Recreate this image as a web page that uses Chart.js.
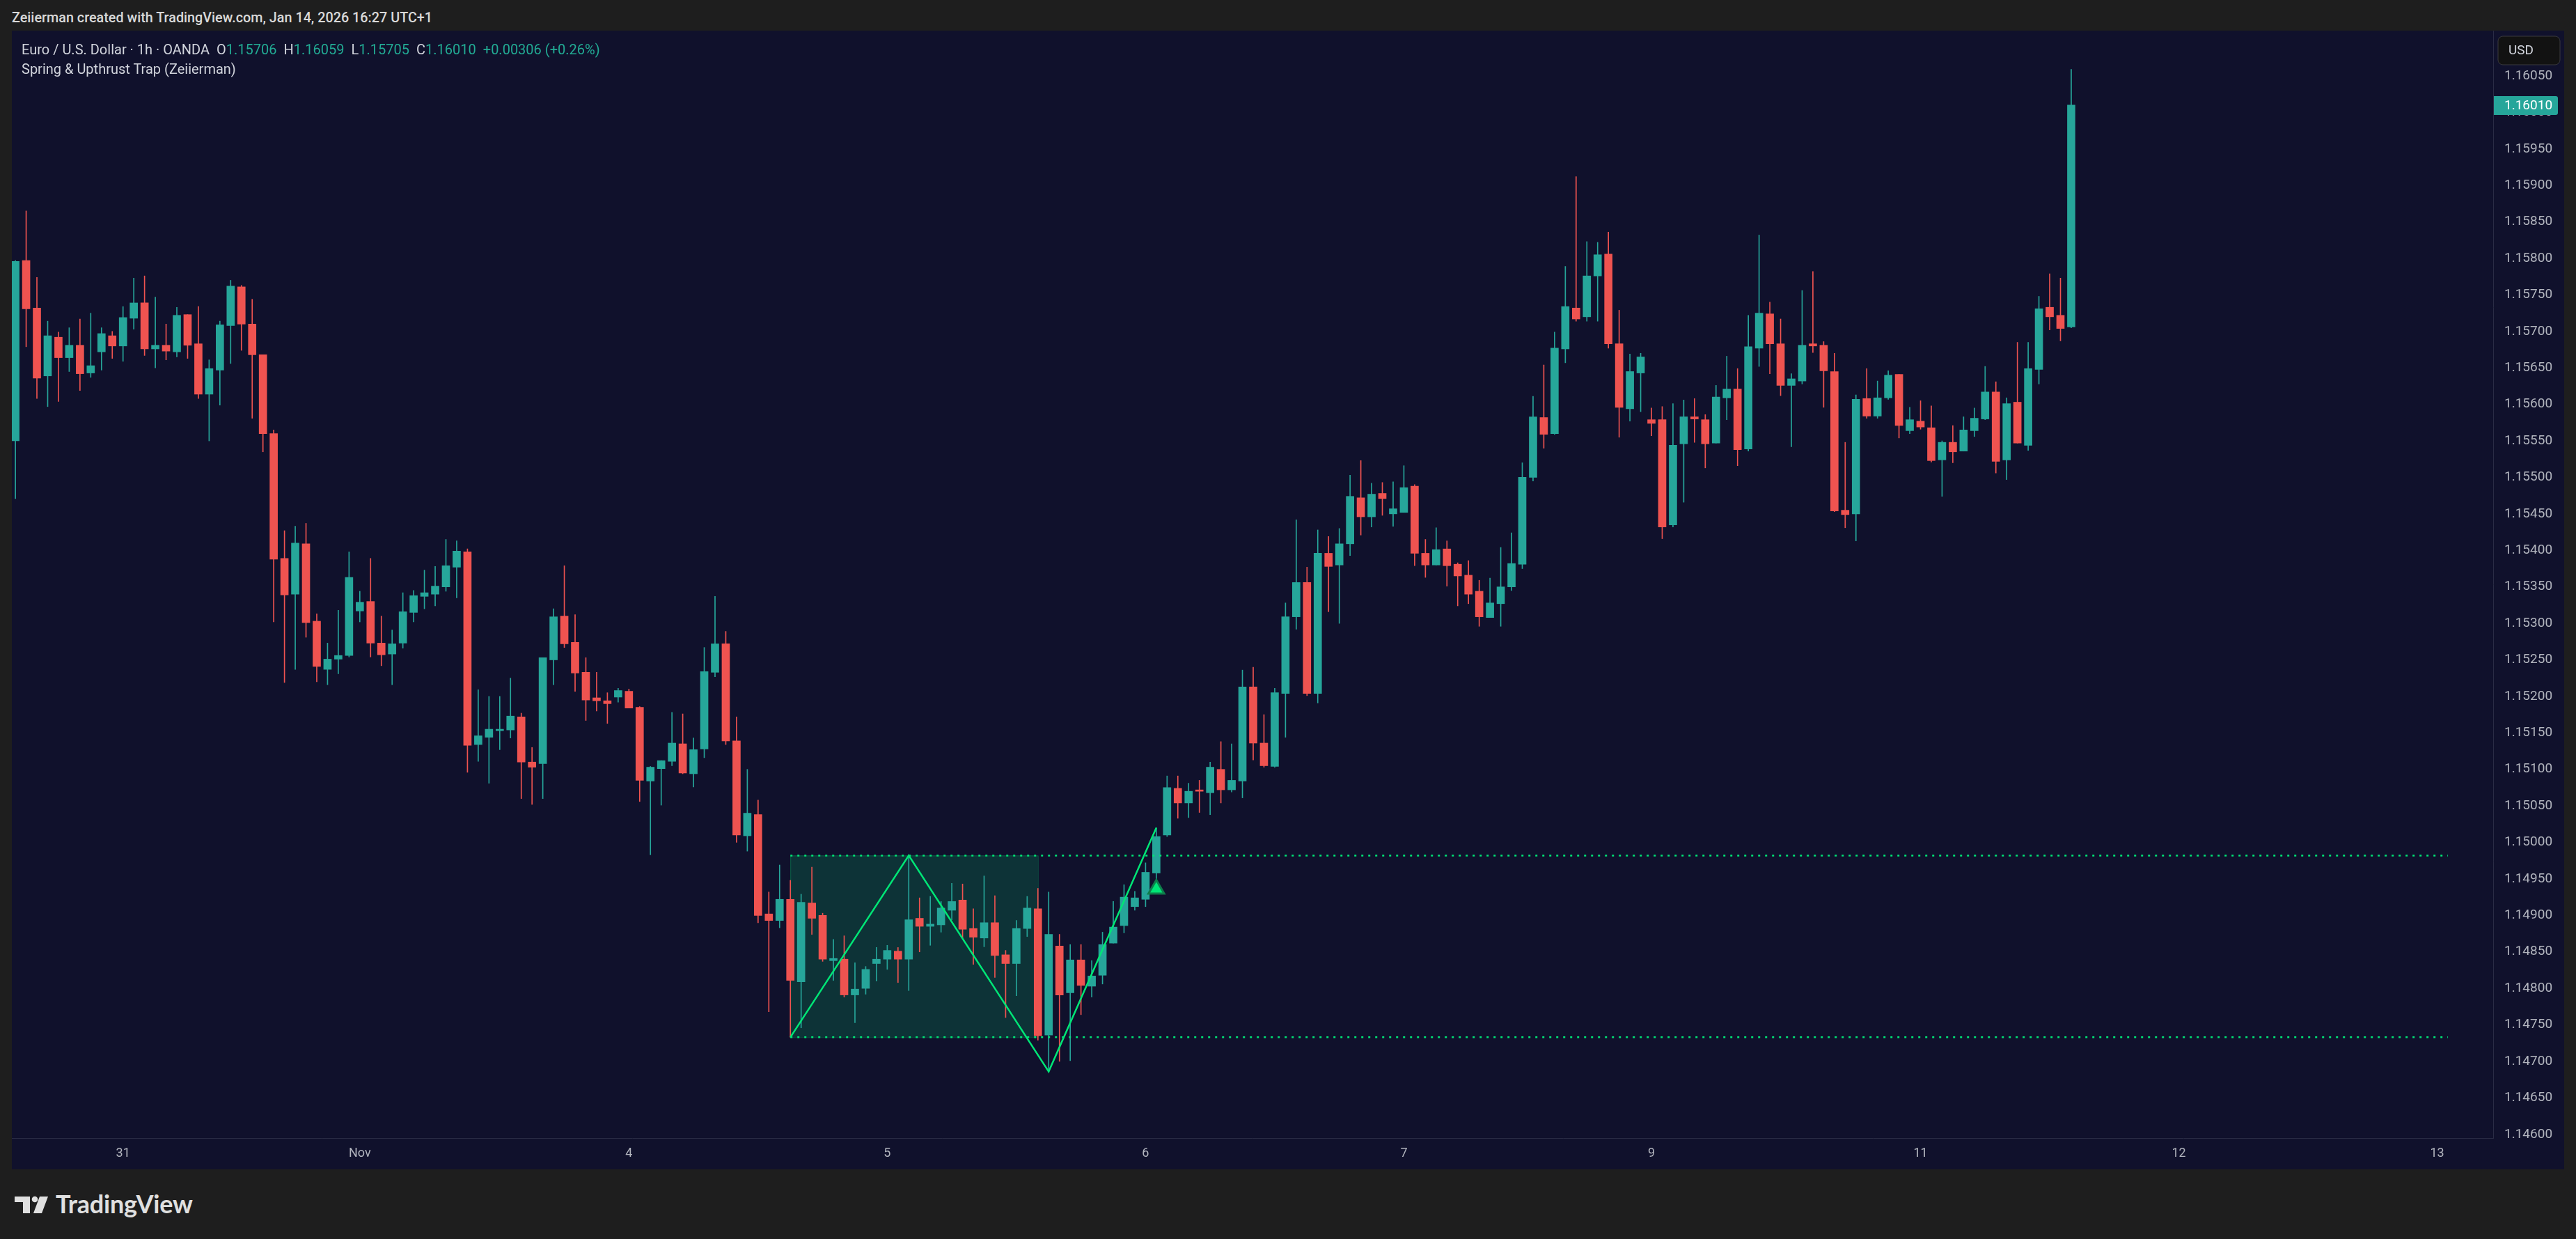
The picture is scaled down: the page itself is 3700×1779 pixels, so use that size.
<!DOCTYPE html>
<html>
<head>
<meta charset="utf-8">
<script src="https://cdn.jsdelivr.net/npm/chart.js@4.4.1/dist/chart.umd.min.js"></script>
<style>
  html, body { margin: 0; padding: 0; background: #1e1e1e; width: 3700px; height: 1779px; overflow: hidden; font-family: Roboto, "Noto Sans", sans-serif; }
  #topbar { position: absolute; left: 17px; top: 14px; font-size: 19.8px; font-weight: 500; color: #d9d9d9; line-height: 24px; white-space: nowrap; }
  #panel { position: absolute; left: 17px; top: 44px; width: 3666px; height: 1635px; background: #10112c; }
  #chart { position: absolute; left: 0; top: 0; }
  #legend { position: absolute; left: 31px; top: 57px; font-size: 20px; color: #d1d4dc; line-height: 28px; white-space: nowrap; z-index: 2; }
  #legend .v { color: #22ab94; }
  #legend .g { margin-left: 10px; }
  #logo { position: absolute; left: 0; top: 1700px; }
  #logotext { position: absolute; left: 80px; top: 1706px; font-family: Lato, Roboto, sans-serif; font-weight: 700; font-size: 36px; color: #e0e0e0; letter-spacing: -0.2px; }
</style>
</head>
<body>
<div id="topbar">Zeiierman created with TradingView.com, Jan 14, 2026 16:27 UTC+1</div>
<div id="panel"><canvas id="chart" width="3666" height="1635"></canvas></div>
<div id="legend">
  <div>Euro / U.S. Dollar · 1h · OANDA<span class="g">O<span class="v">1.15706</span></span><span class="g">H<span class="v">1.16059</span></span><span class="g">L<span class="v">1.15705</span></span><span class="g">C<span class="v">1.16010</span></span><span class="g v">+0.00306 (+0.26%)</span></div>
  <div>Spring &amp; Upthrust Trap (Zeiierman)</div>
</div>
<svg id="logo" width="80" height="60">
  <polygon points="21,18 43,18 43,42 33,42 33,26 21,26" fill="#e0e0e0"/>
  <circle cx="50" cy="22" r="4.3" fill="#e0e0e0"/>
  <polygon points="57,18 69,18 60,42 48,42" fill="#e0e0e0"/>
</svg>
<div id="logotext">TradingView</div>
<script>
// --- EURUSD 1h candles (Oct 30 14:00 .. Nov 11), index = bar number ---
const openPrices = [
  1.15550, 1.15797, 1.15732, 1.15639, 1.15692, 1.15664, 1.15681, 1.15643, 1.15672, 1.15694,
  1.15680, 1.15718, 1.15739, 1.15676, 1.15681, 1.15672, 1.15723, 1.15683, 1.15614, 1.15647,
  1.15708, 1.15761, 1.15710, 1.15668, 1.15560, 1.15389, 1.15340, 1.15409, 1.15303, 1.15237,
  1.15251, 1.15256, 1.15317, 1.15330, 1.15273, 1.15258, 1.15273, 1.15315, 1.15337, 1.15340,
  1.15350, 1.15377, 1.15398, 1.15134, 1.15144, 1.15153, 1.15154, 1.15172, 1.15110, 1.15108,
  1.15250, 1.15310, 1.15274, 1.15233, 1.15198, 1.15194, 1.15199, 1.15207, 1.15185, 1.15084,
  1.15101, 1.15111, 1.15135, 1.15094, 1.15128, 1.15233, 1.15272, 1.15139, 1.15009, 1.15038,
  1.14902, 1.14893, 1.14922, 1.14809, 1.14917, 1.14900, 1.14838, 1.14840, 1.14791, 1.14800,
  1.14834, 1.14840, 1.14851, 1.14840, 1.14896, 1.14885, 1.14887, 1.14907, 1.14921, 1.14882,
  1.14869, 1.14890, 1.14846, 1.14834, 1.14882, 1.14909, 1.14736, 1.14858, 1.14794, 1.14839,
  1.14803, 1.14818, 1.14862, 1.14886, 1.14912, 1.14922, 1.14958, 1.15010, 1.15074, 1.15054,
  1.15071, 1.15068, 1.15100, 1.15072, 1.15084, 1.15213, 1.15136, 1.15104, 1.15204, 1.15309,
  1.15356, 1.15204, 1.15396, 1.15380, 1.15409, 1.15472, 1.15446, 1.15478, 1.15450, 1.15452,
  1.15488, 1.15396, 1.15380, 1.15402, 1.15381, 1.15366, 1.15344, 1.15308, 1.15327, 1.15350,
  1.15381, 1.15500, 1.15582, 1.15560, 1.15676, 1.15732, 1.15720, 1.15776, 1.15806, 1.15683,
  1.15594, 1.15643, 1.15579, 1.15579, 1.15435, 1.15546, 1.15583, 1.15579, 1.15547, 1.15609,
  1.15621, 1.15539, 1.15677, 1.15724, 1.15683, 1.15626, 1.15632, 1.15683, 1.15681, 1.15645,
  1.15455, 1.15450, 1.15608, 1.15584, 1.15609, 1.15641, 1.15564, 1.15577, 1.15568, 1.15524,
  1.15548, 1.15536, 1.15564, 1.15580, 1.15617, 1.15524, 1.15603, 1.15544, 1.15648, 1.15733,
  1.15722, 1.15706
];
const highPrices = [
  1.15797, 1.15865, 1.15774, 1.15714, 1.15699, 1.15705, 1.15717, 1.15725, 1.15705, 1.15700,
  1.15734, 1.15773, 1.15776, 1.15747, 1.15710, 1.15733, 1.15723, 1.15734, 1.15661, 1.15714,
  1.15770, 1.15763, 1.15744, 1.15668, 1.15565, 1.15427, 1.15433, 1.15437, 1.15313, 1.15273,
  1.15318, 1.15398, 1.15344, 1.15389, 1.15310, 1.15291, 1.15342, 1.15345, 1.15373, 1.15378,
  1.15415, 1.15413, 1.15402, 1.15209, 1.15200, 1.15200, 1.15225, 1.15177, 1.15130, 1.15253,
  1.15320, 1.15379, 1.15312, 1.15253, 1.15233, 1.15205, 1.15211, 1.15210, 1.15186, 1.15104,
  1.15112, 1.15178, 1.15176, 1.15143, 1.15267, 1.15337, 1.15289, 1.15172, 1.15100, 1.15058,
  1.14932, 1.14969, 1.14948, 1.14929, 1.14966, 1.14903, 1.14867, 1.14872, 1.14835, 1.14830,
  1.14856, 1.14859, 1.14856, 1.14982, 1.14924, 1.14926, 1.14919, 1.14944, 1.14943, 1.14909,
  1.14954, 1.14927, 1.14852, 1.14893, 1.14926, 1.14937, 1.14932, 1.14874, 1.14860, 1.14860,
  1.14838, 1.14877, 1.14919, 1.14942, 1.14933, 1.14972, 1.15020, 1.15091, 1.15091, 1.15081,
  1.15085, 1.15110, 1.15138, 1.15135, 1.15236, 1.15240, 1.15175, 1.15211, 1.15328, 1.15442,
  1.15377, 1.15428, 1.15419, 1.15430, 1.15503, 1.15523, 1.15492, 1.15493, 1.15494, 1.15516,
  1.15490, 1.15415, 1.15431, 1.15413, 1.15383, 1.15386, 1.15359, 1.15362, 1.15404, 1.15424,
  1.15520, 1.15611, 1.15654, 1.15699, 1.15789, 1.15912, 1.15823, 1.15822, 1.15836, 1.15729,
  1.15669, 1.15670, 1.15595, 1.15597, 1.15601, 1.15606, 1.15608, 1.15586, 1.15626, 1.15666,
  1.15649, 1.15722, 1.15832, 1.15740, 1.15717, 1.15642, 1.15756, 1.15782, 1.15686, 1.15670,
  1.15548, 1.15613, 1.15649, 1.15632, 1.15646, 1.15641, 1.15596, 1.15605, 1.15598, 1.15550,
  1.15571, 1.15583, 1.15595, 1.15652, 1.15631, 1.15609, 1.15685, 1.15685, 1.15748, 1.15779,
  1.15773, 1.16059
];
const lowPrices = [
  1.15471, 1.15679, 1.15608, 1.15597, 1.15604, 1.15645, 1.15619, 1.15637, 1.15647, 1.15663,
  1.15659, 1.15703, 1.15667, 1.15650, 1.15661, 1.15665, 1.15663, 1.15608, 1.15550, 1.15599,
  1.15656, 1.15674, 1.15581, 1.15535, 1.15302, 1.15219, 1.15237, 1.15281, 1.15220, 1.15216,
  1.15231, 1.15254, 1.15302, 1.15254, 1.15242, 1.15216, 1.15266, 1.15302, 1.15320, 1.15324,
  1.15344, 1.15335, 1.15096, 1.15111, 1.15081, 1.15127, 1.15143, 1.15060, 1.15052, 1.15060,
  1.15216, 1.15267, 1.15207, 1.15167, 1.15180, 1.15163, 1.15192, 1.15184, 1.15056, 1.14983,
  1.15051, 1.15105, 1.15094, 1.15076, 1.15116, 1.15227, 1.15134, 1.15000, 1.14988, 1.14890,
  1.14768, 1.14883, 1.14733, 1.14746, 1.14874, 1.14837, 1.14811, 1.14788, 1.14753, 1.14792,
  1.14810, 1.14826, 1.14808, 1.14797, 1.14850, 1.14859, 1.14877, 1.14894, 1.14869, 1.14833,
  1.14857, 1.14815, 1.14760, 1.14790, 1.14871, 1.14729, 1.14686, 1.14700, 1.14701, 1.14764,
  1.14788, 1.14806, 1.14862, 1.14876, 1.14907, 1.14912, 1.14933, 1.15008, 1.15033, 1.15034,
  1.15041, 1.15038, 1.15054, 1.15069, 1.15061, 1.15113, 1.15103, 1.15103, 1.15144, 1.15292,
  1.15201, 1.15191, 1.15316, 1.15300, 1.15393, 1.15421, 1.15432, 1.15448, 1.15433, 1.15452,
  1.15379, 1.15363, 1.15380, 1.15351, 1.15324, 1.15327, 1.15296, 1.15308, 1.15296, 1.15345,
  1.15375, 1.15495, 1.15540, 1.15559, 1.15657, 1.15714, 1.15714, 1.15714, 1.15677, 1.15555,
  1.15577, 1.15590, 1.15557, 1.15416, 1.15432, 1.15466, 1.15548, 1.15513, 1.15547, 1.15579,
  1.15516, 1.15536, 1.15652, 1.15642, 1.15612, 1.15542, 1.15628, 1.15671, 1.15596, 1.15453,
  1.15431, 1.15413, 1.15581, 1.15581, 1.15607, 1.15554, 1.15560, 1.15566, 1.15521, 1.15474,
  1.15520, 1.15536, 1.15556, 1.15579, 1.15506, 1.15497, 1.15547, 1.15537, 1.15628, 1.15702,
  1.15687, 1.15705
];
const closePrices = [
  1.15796, 1.15731, 1.15636, 1.15694, 1.15664, 1.15681, 1.15642, 1.15653, 1.15697, 1.15680,
  1.15719, 1.15739, 1.15676, 1.15681, 1.15673, 1.15722, 1.15681, 1.15614, 1.15649, 1.15709,
  1.15762, 1.15710, 1.15668, 1.15560, 1.15388, 1.15339, 1.15410, 1.15301, 1.15241, 1.15251,
  1.15256, 1.15363, 1.15329, 1.15273, 1.15257, 1.15272, 1.15316, 1.15338, 1.15342, 1.15351,
  1.15379, 1.15399, 1.15133, 1.15146, 1.15155, 1.15155, 1.15173, 1.15110, 1.15103, 1.15253,
  1.15309, 1.15272, 1.15232, 1.15195, 1.15194, 1.15190, 1.15208, 1.15184, 1.15085, 1.15103,
  1.15112, 1.15136, 1.15095, 1.15127, 1.15234, 1.15272, 1.15139, 1.15010, 1.15040, 1.14900,
  1.14893, 1.14922, 1.14811, 1.14918, 1.14896, 1.14840, 1.14841, 1.14791, 1.14799, 1.14826,
  1.14840, 1.14852, 1.14840, 1.14894, 1.14885, 1.14888, 1.14910, 1.14919, 1.14881, 1.14870,
  1.14890, 1.14845, 1.14834, 1.14882, 1.14910, 1.14735, 1.14874, 1.14791, 1.14839, 1.14804,
  1.14817, 1.14860, 1.14884, 1.14925, 1.14924, 1.14959, 1.15008, 1.15075, 1.15054, 1.15070,
  1.15070, 1.15103, 1.15072, 1.15085, 1.15213, 1.15136, 1.15105, 1.15205, 1.15309, 1.15356,
  1.15204, 1.15396, 1.15378, 1.15409, 1.15474, 1.15446, 1.15477, 1.15471, 1.15457, 1.15486,
  1.15396, 1.15380, 1.15401, 1.15379, 1.15365, 1.15340, 1.15309, 1.15328, 1.15350, 1.15382,
  1.15500, 1.15583, 1.15559, 1.15677, 1.15734, 1.15717, 1.15776, 1.15805, 1.15683, 1.15596,
  1.15645, 1.15665, 1.15574, 1.15432, 1.15544, 1.15583, 1.15580, 1.15546, 1.15610, 1.15621,
  1.15538, 1.15679, 1.15725, 1.15683, 1.15626, 1.15635, 1.15681, 1.15680, 1.15646, 1.15454,
  1.15449, 1.15607, 1.15584, 1.15609, 1.15640, 1.15571, 1.15579, 1.15569, 1.15523, 1.15548,
  1.15535, 1.15565, 1.15581, 1.15617, 1.15522, 1.15601, 1.15547, 1.15649, 1.15731, 1.15720,
  1.15704, 1.16010
];

// --- axis ticks ---
const dayTickIdx = [10, 32, 57, 81, 105, 129, 152, 177, 201, 225];
const dayTickLabels = ['31', 'Nov', '4', '5', '6', '7', '9', '11', '12', '13'];
const priceTicks = [
  1.14600, 1.14650, 1.14700, 1.14750, 1.14800, 1.14850, 1.14900, 1.14950, 1.15000, 1.15050,
  1.15100, 1.15150, 1.15200, 1.15250, 1.15300, 1.15350, 1.15400, 1.15450, 1.15500, 1.15550,
  1.15600, 1.15650, 1.15700, 1.15750, 1.15800, 1.15850, 1.15900, 1.15950, 1.16000, 1.16050
];

// --- Spring & Upthrust Trap indicator ---
const rangeStartIdx = 72;
const rangeEndIdx = 95;
const levelEndIdx = 226;
const rangeHigh = 1.14982;
const rangeLow = 1.14733;
const zigzagIdx = [72, 83, 96, 106];
const zigzagPrice = [1.14733, 1.14982, 1.14686, 1.15020];
const signalIdx = [106];
const signalPrice = [1.14936];

const UP = '#26a69a';
const DOWN = '#ef5350';
const TRAP = '#00e676';

const bars = openPrices.map((_, i) => i);
const candleColors = bars.map(i => closePrices[i] >= openPrices[i] ? UP : DOWN);

// box, USD tag and last price tag
const overlayPlugin = {
  id: 'overlay',
  beforeDatasetsDraw(chart) {
    const { ctx, scales: { x, y } } = chart;
    const l = x.getPixelForValue(rangeStartIdx);
    const r = x.getPixelForValue(rangeEndIdx);
    const t = y.getPixelForValue(rangeHigh);
    const b = y.getPixelForValue(rangeLow);
    ctx.save();
    ctx.fillStyle = 'rgba(0, 230, 118, 0.16)';
    ctx.fillRect(l, t, r - l, b - t);
    ctx.strokeStyle = 'rgba(0, 230, 118, 0.28)';
    ctx.lineWidth = 1;
    ctx.strokeRect(l + 0.5, t + 0.5, r - l, b - t);
    ctx.restore();
  },
  afterDraw(chart) {
    const { ctx, scales: { y } } = chart;
    const axisLeft = chart.chartArea.right;
    ctx.save();
    // USD tag
    ctx.beginPath();
    ctx.roundRect(axisLeft + 7, 8, 89, 41, 7);
    ctx.fillStyle = '#121212';
    ctx.fill();
    ctx.strokeStyle = '#3a3a3e';
    ctx.lineWidth = 1;
    ctx.stroke();
    ctx.fillStyle = '#d1d4dc';
    ctx.font = '19px Roboto, sans-serif';
    ctx.textBaseline = 'middle';
    ctx.textAlign = 'left';
    ctx.fillText('USD', axisLeft + 22, 29);
    // last price tag
    const last = closePrices[closePrices.length - 1];
    const py = Math.round(y.getPixelForValue(last));
    ctx.beginPath();
    ctx.roundRect(axisLeft + 1, py - 13, 92, 27, [0, 3, 3, 0]);
    ctx.fillStyle = UP;
    ctx.fill();
    ctx.fillStyle = '#ffffff';
    ctx.fillText(last.toFixed(5), axisLeft + 16, py + 1);
    ctx.restore();
  }
};

const noPad = s => { s.paddingTop = 0; s.paddingBottom = 0; s.paddingLeft = 0; s.paddingRight = 0; };

new Chart(document.getElementById('chart'), {
  type: 'bar',
  data: {
    datasets: [
      {
        type: 'line',
        data: zigzagIdx.map((v, i) => ({ x: v, y: zigzagPrice[i] })),
        borderColor: TRAP,
        borderWidth: 2.5,
        pointRadius: 0,
        tension: 0,
        order: 0
      },
      {
        type: 'line',
        data: [{ x: rangeStartIdx, y: rangeHigh }, { x: levelEndIdx, y: rangeHigh }],
        borderColor: TRAP,
        borderWidth: 2.5,
        borderDash: [3, 7],
        pointRadius: 0,
        order: 0
      },
      {
        type: 'line',
        data: [{ x: rangeStartIdx, y: rangeLow }, { x: levelEndIdx, y: rangeLow }],
        borderColor: TRAP,
        borderWidth: 2.5,
        borderDash: [3, 7],
        pointRadius: 0,
        order: 0
      },
      {
        type: 'line',
        showLine: false,
        data: signalIdx.map((v, i) => ({ x: v, y: signalPrice[i] })),
        pointStyle: 'triangle',
        pointRadius: 13,
        pointBackgroundColor: TRAP,
        pointBorderColor: '#0e7d4b',
        pointBorderWidth: 3,
        order: 0
      },
      {
        type: 'bar',
        data: bars.map(i => ({ x: i, y: [openPrices[i], closePrices[i]] })),
        backgroundColor: candleColors,
        barThickness: 11,
        minBarLength: 2,
        grouped: false,
        order: 1
      },
      {
        type: 'bar',
        data: bars.map(i => ({ x: i, y: [lowPrices[i], highPrices[i]] })),
        backgroundColor: candleColors,
        barThickness: 1,
        grouped: false,
        order: 2
      }
    ]
  },
  options: {
    responsive: false,
    devicePixelRatio: 1,
    animation: false,
    layout: { padding: 0, autoPadding: false },
    plugins: { legend: { display: false }, tooltip: { enabled: false } },
    scales: {
      x: {
        type: 'linear',
        offset: false,
        min: -0.33,
        max: 230.2,
        grid: { display: false, drawTicks: false },
        border: { display: true, color: '#2a2c45' },
        afterBuildTicks: s => { s.ticks = dayTickIdx.map(v => ({ value: v })); },
        afterFit: s => { s.height = 45; noPad(s); },
        ticks: {
          autoSkip: false,
          maxRotation: 0,
          padding: 12,
          color: '#b2b5be',
          font: { family: 'Roboto', size: 18 },
          callback: (v, i) => dayTickLabels[i]
        }
      },
      y: {
        position: 'right',
        min: 1.14595,
        max: 1.16112,
        grid: { display: false, drawTicks: false },
        border: { display: true, color: '#2a2c45' },
        afterBuildTicks: s => { s.ticks = priceTicks.map(v => ({ value: v })); },
        afterFit: s => { s.width = 102; noPad(s); },
        ticks: {
          padding: 16,
          color: '#b2b5be',
          font: { family: 'Roboto', size: 19 },
          callback: v => Number(v).toFixed(5)
        }
      }
    }
  },
  plugins: [overlayPlugin]
});
</script>
</body>
</html>
